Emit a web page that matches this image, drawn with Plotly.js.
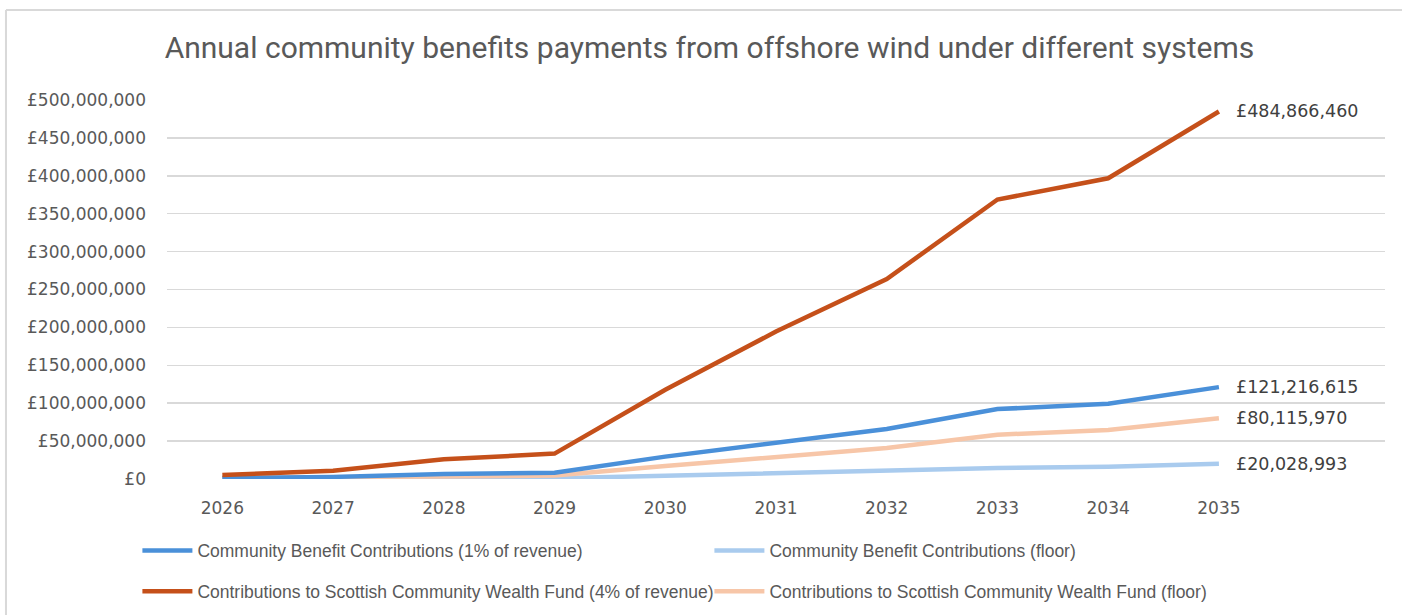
<!DOCTYPE html>
<html>
<head>
<meta charset="utf-8">
<script src="https://cdn.plot.ly/plotly-3.0.1.min.js"></script>
<style>html,body{margin:0;padding:0;background:#fff;}#chart{width:1402px;height:615px;}</style>
</head>
<body>
<div id="chart"></div>
<script>
const years = ['2026','2027','2028','2029','2030','2031','2032','2033','2034','2035'];
const cbc1pct = [1300000, 2750000, 6500000, 8400000, 29500000, 47800000, 66000000, 92200000, 99200000, 121216615];
const cbcFloor = [300000, 500000, 800000, 1100000, 4200000, 7400000, 10300000, 14600000, 16100000, 20028993];
const scwf4pct = [5200000, 11000000, 26000000, 33500000, 117800000, 194500000, 263800000, 368700000, 396700000, 484866460];
const scwfFloor = [1200000, 2000000, 3300000, 4500000, 17000000, 29500000, 41000000, 58500000, 64500000, 80115970];
const names = [
  'Community Benefit Contributions (1% of revenue)',
  'Community Benefit Contributions (floor)',
  'Contributions to Scottish Community Wealth Fund (4% of revenue)',
  'Contributions to Scottish Community Wealth Fund (floor)'
];
const yTicks = [0,50000000,100000000,150000000,200000000,250000000,300000000,350000000,400000000,450000000,500000000];
const yTickText = ['£0','£50,000,000','£100,000,000','£150,000,000','£200,000,000','£250,000,000','£300,000,000','£350,000,000','£400,000,000','£450,000,000','£500,000,000'];

const legFont = '"Liberation Sans Narrow", "Arial Narrow", "Liberation Sans", sans-serif';
const tickFont = '"DejaVu Sans", sans-serif';
const txt = '#595959';

function fmt(v){
  const s = String(Math.round(v));
  return '£' + s.replace(/\B(?=(\d{3})+(?!\d))/g, ',');
}

const series = [
  {y: cbc1pct, color: '#4A90D9', legend: 'legend'},
  {y: cbcFloor, color: '#A9CBEE', legend: 'legend'},
  {y: scwf4pct, color: '#C5501A', legend: 'legend2'},
  {y: scwfFloor, color: '#F7C6A8', legend: 'legend2'}
];
const traces = series.map((s, i) => ({
  type: 'scatter', mode: 'lines', x: years, y: s.y, name: names[i],
  line: {color: s.color, width: 4.5, shape: 'linear'},
  legend: s.legend, legendrank: i, hoverinfo: 'skip'
}));
const data = [traces[1], traces[3], traces[0], traces[2]];

const lastIdx = years.length - 1;
const annotations = series.map(s => ({
  x: lastIdx, y: s.y[lastIdx], xref: 'x', yref: 'y',
  text: fmt(s.y[lastIdx]), showarrow: false, xanchor: 'left', yanchor: 'middle',
  xshift: 15, font: {family: tickFont, size: 17.5, color: '#404040'}
}));

const layout = {
  width: 1402, height: 615,
  margin: {l: 167, r: 17, t: 100, b: 136, autoexpand: false},
  paper_bgcolor: '#fff', plot_bgcolor: '#fff',
  title: {text: 'Annual community benefits payments from offshore wind under different systems',
    x: 0.506, xref: 'container', xanchor: 'center', y: 0.922, yref: 'container', yanchor: 'middle',
    font: {family: 'Roboto, "Noto Sans", sans-serif', size: 30, color: txt}},
  xaxis: {type: 'category', range: [-0.5, 10.5], showgrid: false, zeroline: false, showline: false,
    ticks: '', ticklabelstandoff: 17, automargin: false,
    tickfont: {family: tickFont, size: 17, color: txt}, fixedrange: true},
  yaxis: {range: [0, 500000000], tickvals: yTicks, ticktext: yTickText, showgrid: true,
    gridcolor: '#D9D9D9', gridwidth: 1.5, zeroline: false, showline: false, ticks: '',
    ticklabelstandoff: 20, automargin: false,
    tickfont: {family: tickFont, size: 17, color: txt}, fixedrange: true},
  showlegend: true,
  legend: {orientation: 'h', x: -0.0243, y: -0.1414, xanchor: 'left', yanchor: 'top',
    entrywidth: 507, entrywidthmode: 'pixels', itemwidth: 50, traceorder: 'normal',
    font: {family: legFont, size: 17.5, color: txt}, bgcolor: 'rgba(0,0,0,0)'},
  legend2: {orientation: 'h', x: -0.0243, y: -0.2493, xanchor: 'left', yanchor: 'top',
    entrywidth: 507, entrywidthmode: 'pixels', itemwidth: 50, traceorder: 'normal',
    font: {family: legFont, size: 17.5, color: txt}, bgcolor: 'rgba(0,0,0,0)'},
  annotations: annotations,
  shapes: [
    {type: 'line', xref: 'paper', yref: 'paper', x0: -0.1322, x1: 1.02, y0: 1.2375, y1: 1.2375, line: {color: '#D9D9D9', width: 2}},
    {type: 'line', xref: 'paper', yref: 'paper', x0: -0.1322, x1: -0.1322, y0: 1.2375, y1: -0.37, line: {color: '#D9D9D9', width: 2}}
  ]
};
Plotly.newPlot('chart', data, layout, {displayModeBar: false, staticPlot: true});
</script>
</body>
</html>
